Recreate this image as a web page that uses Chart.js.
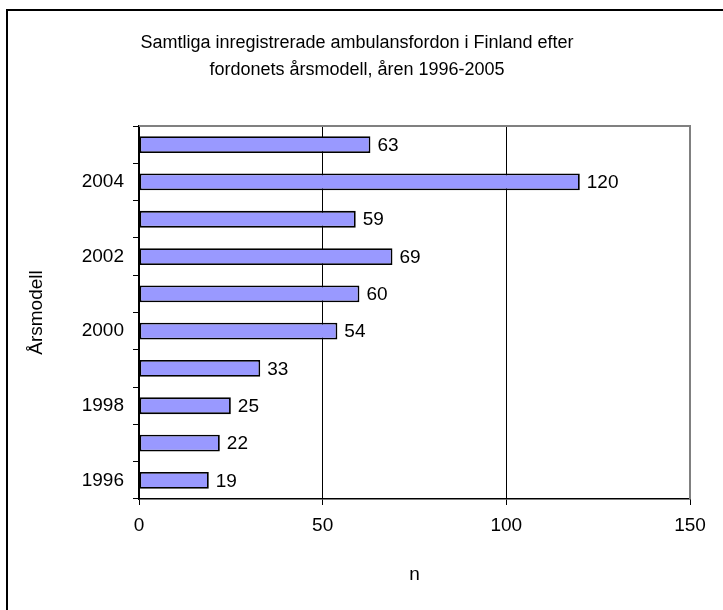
<!DOCTYPE html>
<html>
<head>
<meta charset="utf-8">
<script src="https://cdn.jsdelivr.net/npm/chart.js@4.4.1/dist/chart.umd.min.js"></script>
<style>
  html, body { margin: 0; padding: 0; background: #fff; overflow: hidden; }
  #wrap { position: relative; width: 723px; height: 610px; }
  #frame { position: absolute; left: 6px; top: 9px; width: 800px; height: 700px;
           border-left: 2px solid #000; border-top: 2px solid #000; }
  canvas { position: absolute; left: 0; top: 0; }
</style>
</head>
<body>
<div id="wrap">
  <div id="frame"></div>
  <canvas id="chart" width="723" height="610"></canvas>
</div>
<script>
const years = ['1996', '1997', '1998', '1999', '2000', '2001', '2002', '2003', '2004', '2005'];
const vehicles = [19, 22, 25, 33, 54, 60, 69, 59, 120, 63];
const titleLines = ['Samtliga inregistrerade ambulansfordon i Finland efter', 'fordonets årsmodell, åren 1996-2005'];
const xTicks = [0, 50, 100, 150];

const FONT = 'Arial, "Liberation Sans", sans-serif';
const fs = 19;

// gray frame on top/right of plot area
const plotFrame = {
  id: 'plotFrame',
  beforeDatasetsDraw(chart) {
    const { ctx, chartArea: a } = chart;
    ctx.save();
    ctx.strokeStyle = '#808080';
    ctx.lineWidth = 2;
    ctx.beginPath();
    ctx.moveTo(a.left, a.top);
    ctx.lineTo(a.right, a.top);
    ctx.lineTo(a.right, a.bottom);
    ctx.stroke();
    ctx.restore();
  }
};

// value labels right of each bar
const valueLabels = {
  id: 'valueLabels',
  afterDatasetsDraw(chart) {
    const { ctx } = chart;
    const meta = chart.getDatasetMeta(0);
    ctx.save();
    ctx.font = fs + 'px ' + FONT;
    ctx.fillStyle = '#000';
    ctx.textAlign = 'left';
    ctx.textBaseline = 'middle';
    meta.data.forEach((bar, i) => {
      ctx.fillText(String(vehicles[i]), bar.x + 7, bar.y + 1);
    });
    ctx.restore();
  }
};

new Chart(document.getElementById('chart'), {
  type: 'bar',
  data: {
    labels: years,
    datasets: [{
      data: vehicles,
      backgroundColor: '#9999FF',
      borderColor: '#000',
      borderWidth: 1.8,
      borderSkipped: false,
      barPercentage: 0.45,
      categoryPercentage: 1
    }]
  },
  options: {
    indexAxis: 'y',
    responsive: false,
    animation: false,
    events: [],
    layout: { padding: { left: 24, right: 33, top: 0, bottom: 0 } },
    plugins: {
      legend: { display: false },
      tooltip: { enabled: false },
      title: {
        display: true,
        text: titleLines,
        color: '#000',
        font: { family: FONT, size: 18, weight: 'normal', lineHeight: 1.5 },
        padding: { top: 30, bottom: 42 }
      }
    },
    scales: {
      x: {
        min: 0,
        max: 150,
        afterBuildTicks(scale) { scale.ticks = xTicks.map(v => ({ value: v })); },
        afterFit(scale) { scale.height = 111; },
        ticks: { color: '#000', font: { family: FONT, size: fs }, padding: 9, maxRotation: 0 },
        grid: {
          color: ctx => ctx.tick && ctx.tick.value === 150 ? '#808080' : '#000',
          lineWidth: 1,
          tickLength: 6,
          tickColor: '#000',
          drawTicks: true
        },
        border: { display: true, color: '#000', width: 1.5 },
        title: {
          display: true,
          text: 'n',
          color: '#000',
          font: { family: FONT, size: fs },
          padding: { top: 0, bottom: 24 }
        }
      },
      y: {
        reverse: true,
        afterFit(scale) { scale.width = 115; },
        ticks: {
          color: '#000',
          font: { family: FONT, size: fs },
          padding: 9,
          autoSkip: false,
          callback(value) {
            const label = this.getLabelForValue(value);
            return Number(label) % 2 === 0 ? label : '';
          }
        },
        grid: {
          offset: true,
          drawOnChartArea: false,
          drawTicks: true,
          tickLength: 6,
          tickColor: '#000'
        },
        border: { display: true, color: '#000', width: 1.5 },
        title: {
          display: true,
          text: 'Årsmodell',
          color: '#000',
          font: { family: FONT, size: fs },
          align: 'center',
          padding: { top: 1, bottom: 0 }
        }
      }
    }
  },
  plugins: [plotFrame, valueLabels]
});
</script>
</body>
</html>
